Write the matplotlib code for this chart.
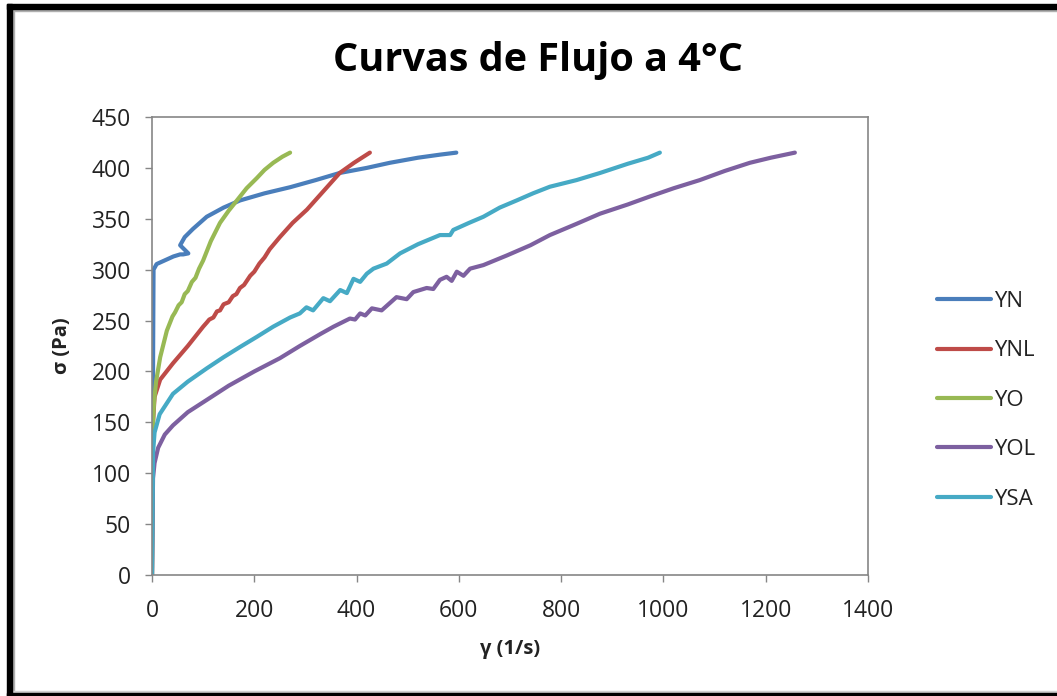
import matplotlib
matplotlib.use("Agg")
import matplotlib.pyplot as plt
from matplotlib.patches import Rectangle

plt.rcParams['font.family'] = ['Open Sans', 'DejaVu Sans']

# ---- data ----
yn_x = [0, 1, 2, 3, 9, 20, 42, 55, 61, 71, 55, 64, 80, 107, 140, 172, 220, 270, 320, 367, 420, 465, 520, 563, 595]
yn_y = [0, 100, 200, 300, 305.5, 308, 313, 315, 315, 316, 324, 332, 340, 352, 361, 368, 375, 381, 388, 395, 400, 405, 410, 413, 415]

ynl_x = [0, 1, 2, 5, 16, 41, 70, 100, 107, 112, 120, 127, 133, 140, 150, 158, 165, 172, 180, 192, 200, 210, 220, 230, 250, 275, 303, 335, 367, 395, 426]
ynl_y = [0, 100, 150, 175, 192, 208, 225, 244, 248, 251, 253, 259, 260, 266, 268, 274, 276, 282, 285, 294, 298, 306, 312, 320, 332, 346, 359, 377, 395, 405, 415]

yo_x = [0, 1, 2, 4, 8, 16, 29, 40, 45, 52, 58, 64, 70, 78, 85, 92, 100, 115, 133, 150, 166, 185, 205, 220, 237, 255, 270]
yo_y = [0, 100, 150, 170, 190, 214, 240, 254, 258, 265, 268, 276, 279, 288, 292, 301, 309, 328, 346, 358, 368, 380, 390, 398, 405, 411, 415]

yol_x = [0, 1, 2, 5, 12, 25, 41, 70, 107, 150, 200, 250, 289, 330, 355, 387, 397, 407, 417, 430, 449, 478, 498, 511, 537, 550, 563, 576, 586, 596, 609, 622, 648, 694, 740, 778, 830, 876, 930, 974, 1020, 1071, 1120, 1169, 1210, 1257]
yol_y = [0, 50, 95, 110, 125, 138, 147, 160, 172, 186, 200, 213, 225, 237, 244, 252, 251, 257, 255, 262, 260, 273, 271, 278, 282, 281, 290, 293, 289, 298, 294, 301, 304.5, 314, 324, 334, 345, 355, 364, 372, 380, 388, 397, 405, 410, 415]

ysa_x = [0, 1, 2, 5, 15, 41, 70, 107, 140, 172, 205, 237, 270, 289, 302, 315, 335, 348, 368, 381, 394, 407, 420, 433, 459, 485, 520, 563, 583, 589, 620, 648, 680, 713, 745, 778, 830, 876, 930, 970, 993]
ysa_y = [0, 60, 120, 140, 158, 178, 190, 203, 214, 224, 234, 244, 253, 257, 263, 260, 272, 269, 280, 277, 291, 288, 296, 301, 306, 316, 325, 334, 334, 339, 346, 352, 361, 368, 375, 381.5, 388, 395, 404, 410, 415]

series = [
    ("YN", yn_x, yn_y, "#4A7EBB"),
    ("YNL", ynl_x, ynl_y, "#BE4B48"),
    ("YO", yo_x, yo_y, "#98B954"),
    ("YOL", yol_x, yol_y, "#7D60A0"),
    ("YSA", ysa_x, ysa_y, "#46AAC5"),
]

x_ticks = [0, 200, 400, 600, 800, 1000, 1200, 1400]
y_ticks = [0, 50, 100, 150, 200, 250, 300, 350, 400, 450]

W, H = 1057, 696
fig = plt.figure(figsize=(W / 100, H / 100), dpi=100)
fig.patch.set_facecolor("white")

ax = fig.add_axes([152 / W, 1 - 575 / H, (868 - 152) / W, (575 - 117) / H])
for name, xs, ys, c in series:
    ax.plot(xs, ys, color=c, lw=3.0, label=name, solid_joinstyle="round", solid_capstyle="round")

ax.set_xlim(0, 1400)
ax.set_ylim(0, 450)
ax.set_xticks(x_ticks)
ax.set_yticks(y_ticks)
ax.tick_params(axis="both", direction="out", length=5, width=1, color="#868686",
               labelsize=16.5, labelcolor="#222222")
ax.tick_params(axis="x", pad=12)
ax.tick_params(axis="y", pad=10)
for sp in ax.spines.values():
    sp.set_color("#868686")
    sp.set_linewidth(1.2)

ax.set_xlabel("γ (1/s)", fontsize=14.5, fontweight="bold", color="#222222", labelpad=12)
ax.set_ylabel("σ (Pa)", fontsize=14.5, fontweight="bold", color="#222222", labelpad=14)

fig.text(538 / W, 1 - 61 / H, "Curvas de Flujo a 4°C", ha="center", va="center",
         fontsize=28.5, fontweight="bold", color="black")

leg = ax.legend(loc="upper left", bbox_to_anchor=(928 / W, 1 - 282 / H), bbox_transform=fig.transFigure,
                frameon=False, fontsize=16, handlelength=2.45, handletextpad=0.1,
                labelspacing=1.28, borderaxespad=0)
for t in leg.get_texts():
    t.set_color("#222222")

# outer frame
fig.add_artist(Rectangle((7 / W, 0), 5 / W, 1 - 4 / H, transform=fig.transFigure, color="black", zorder=10))
fig.add_artist(Rectangle((7 / W, 1 - 9 / H), 1, 5 / H, transform=fig.transFigure, color="black", zorder=10))
fig.add_artist(Rectangle((7 / W, 0), 1, 3 / H, transform=fig.transFigure, color="black", zorder=10))
fig.add_artist(Rectangle((12 / W, 3 / H), 2 / W, 1 - 12 / H, transform=fig.transFigure, color="#b0b0b0", zorder=9))
fig.add_artist(Rectangle((12 / W, 1 - 11 / H), 1, 2 / H, transform=fig.transFigure, color="#b0b0b0", zorder=9))
fig.add_artist(Rectangle((12 / W, 3 / H), 1, 2 / H, transform=fig.transFigure, color="#d0d0d0", zorder=9))

fig.savefig("out.png", dpi=100)
